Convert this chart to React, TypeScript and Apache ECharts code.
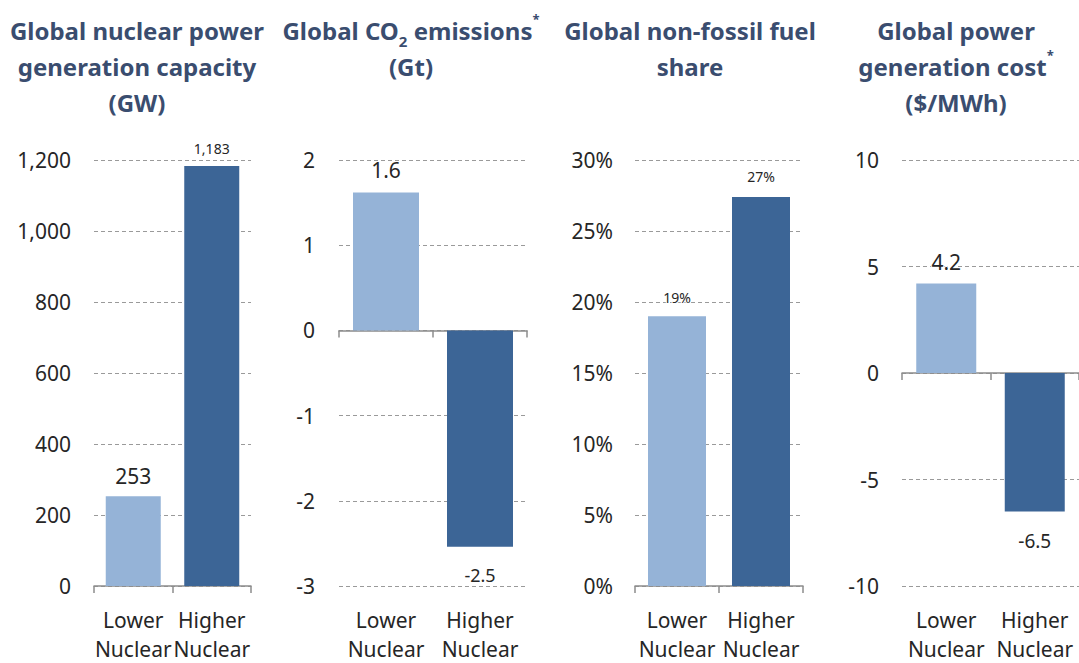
import React, { useEffect, useRef } from "react";
import * as echarts from "echarts";

// ---- data ----
const categories = ["Lower\nNuclear", "Higher\nNuclear"];
const capacityGW = [253, 1183];
const co2Gt = [1.62, -2.54];
const nonFossilSharePct = [19.0, 27.4];
const costUsdPerMWh = [4.2, -6.5];

const capacityTicks = { min: 0, max: 1200, interval: 200 };
const co2Ticks = { min: -3, max: 2, interval: 1 };
const shareTicks = { min: 0, max: 30, interval: 5 };
const costTicks = { min: -10, max: 10, interval: 5 };

const titles = [
  "{t|Global nuclear power}\n{t|generation capacity}\n{t|(GW)}",
  "{t|Global CO}{sub|2}{t| emissions}{sup|*}\n{t|(Gt)}",
  "{t|Global non-fossil fuel}\n{t|share}",
  "{t|Global power}\n{t|generation cost}{sup|*}\n{t|($/MWh)}",
];

// ---- styling / layout ----
const FONT = "'Noto Sans', 'Open Sans', sans-serif";
const TITLE_COLOR = "#3a4d6f";
const TEXT_COLOR = "#262626";
const BAR_COLORS = ["#95b3d7", "#3c6596"];

const gridBoxes = [
  { left: 94, width: 157 },
  { left: 339, width: 188 },
  { left: 635, width: 168 },
  { left: 902, width: 177 },
];
const barWidths = [55, 66, 58, 60];
const yLabelMargins = [23, 24, 22, 23];
const titleCenters = [137, 411, 690, 956];

const labelFontSizes = [
  [21, 14],
  [21, 18],
  [14, 14],
  [21, 19],
];
const labelDistances = [
  [10, 11],
  [12, 19],
  [12, 13],
  [11, 20],
];

const fmtThousands = (v: number) =>
  Math.round(v).toString().replace(/\B(?=(\d{3})+(?!\d))/g, ",");

const panels = [
  {
    values: capacityGW,
    ticks: capacityTicks,
    axisFmt: (v: number) => fmtThousands(v),
    labelFmt: (v: number) => fmtThousands(v),
  },
  {
    values: co2Gt,
    ticks: co2Ticks,
    axisFmt: (v: number) => String(v),
    labelFmt: (v: number) => v.toFixed(1),
  },
  {
    values: nonFossilSharePct,
    ticks: shareTicks,
    axisFmt: (v: number) => `${v}%`,
    labelFmt: (v: number) => `${Math.round(v)}%`,
  },
  {
    values: costUsdPerMWh,
    ticks: costTicks,
    axisFmt: (v: number) => String(v),
    labelFmt: (v: number) => v.toFixed(1),
  },
];

export default function App() {
  const ref = useRef<HTMLDivElement>(null);

  useEffect(() => {
    if (!ref.current) return;
    const chart = echarts.init(ref.current, null, { renderer: "svg" });

    const grid: any[] = [];
    const xAxis: any[] = [];
    const yAxis: any[] = [];
    const series: any[] = [];
    const graphic: any[] = [];

    panels.forEach((p, i) => {
      grid.push({
        left: gridBoxes[i].left,
        width: gridBoxes[i].width,
        top: 160,
        height: 432,
        containLabel: false,
      });
      // axis line + ticks (sits on zero)
      xAxis.push({
        gridIndex: i,
        type: "category",
        data: categories,
        position: "bottom",
        boundaryGap: true,
        axisLine: { show: true, onZero: true, lineStyle: { color: "#8c8c8c", width: 1.5 } },
        axisTick: { show: true, length: 7, lineStyle: { color: "#8c8c8c", width: 1.5 } },
        axisLabel: { show: false },
        splitLine: { show: false },
      });
      // category labels at bottom of grid
      xAxis.push({
        gridIndex: i,
        type: "category",
        data: categories,
        position: "bottom",
        axisLine: { show: false, onZero: false },
        axisTick: { show: false },
        axisLabel: {
          show: true,
          fontSize: 21,
          lineHeight: 29,
          color: TEXT_COLOR,
          fontFamily: FONT,
          margin: 19,
          interval: 0,
        },
        splitLine: { show: false },
      });
      yAxis.push({
        gridIndex: i,
        type: "value",
        min: p.ticks.min,
        max: p.ticks.max,
        interval: p.ticks.interval,
        axisLine: { show: false },
        axisTick: { show: false },
        splitLine: {
          show: true,
          lineStyle: { type: [4, 3], color: "#9a9a9a", width: 1 },
        },
        axisLabel: {
          fontSize: 21,
          color: TEXT_COLOR,
          fontFamily: FONT,
          margin: yLabelMargins[i],
          formatter: p.axisFmt,
        },
      });
      series.push({
        type: "bar",
        xAxisIndex: i * 2,
        yAxisIndex: i,
        barWidth: barWidths[i],
        data: p.values.map((v, j) => ({
          value: v,
          itemStyle: { color: BAR_COLORS[j] },
          label: {
            show: true,
            position: "outside",
            distance: labelDistances[i][j],
            fontSize: labelFontSizes[i][j],
            color: TEXT_COLOR,
            fontFamily: FONT,
            textBorderColor: "#ffffff",
            textBorderWidth: 2,
            formatter: () => p.labelFmt(v),
          },
        })),
      });
      graphic.push({
        type: "text",
        x: titleCenters[i],
        y: 12,
        style: {
          text: titles[i],
          align: "center",
          verticalAlign: "top",
          rich: {
            t: {
              fontSize: 24,
              fontWeight: "bold",
              fontFamily: FONT,
              fill: TITLE_COLOR,
              lineHeight: 36,
            },
            sub: {
              fontSize: 15,
              fontWeight: "bold",
              fontFamily: FONT,
              fill: TITLE_COLOR,
              lineHeight: 24,
              verticalAlign: "bottom",
            },
            sup: {
              fontSize: 13,
              fontWeight: "bold",
              fontFamily: FONT,
              fill: TITLE_COLOR,
              lineHeight: 12,
              verticalAlign: "top",
            },
          },
        },
      });
    });

    chart.setOption({
      animation: false,
      backgroundColor: "#ffffff",
      grid,
      xAxis,
      yAxis,
      series,
      graphic,
    });

    return () => chart.dispose();
  }, []);

  return (
    <div
      ref={ref}
      style={{ position: "fixed", left: 0, top: 0, width: 1079, height: 663 }}
    />
  );
}
